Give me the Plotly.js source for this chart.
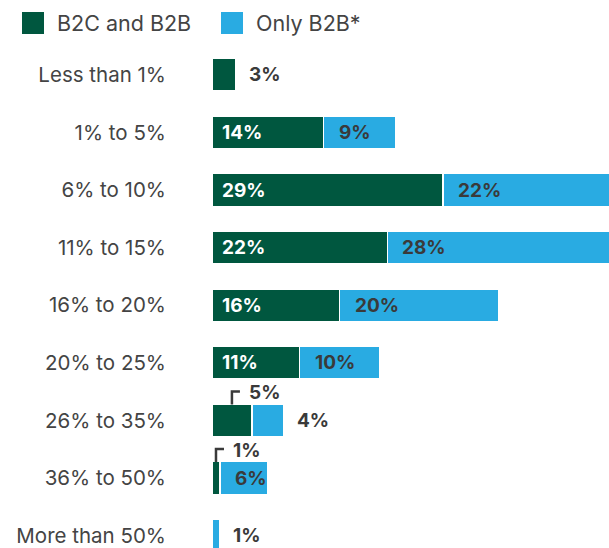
<!DOCTYPE html>
<html>
<head>
<meta charset="utf-8">
<script src="https://cdn.plot.ly/plotly-3.0.1.min.js"></script>
<style>html,body{margin:0;padding:0;background:#fff;}#chart{width:609px;height:548px;}</style>
</head>
<body>
<div id="chart"></div>
<script>
const categories = ['Less than 1%','1% to 5%','6% to 10%','11% to 15%','16% to 20%','20% to 25%','26% to 35%','36% to 50%','More than 50%'];
const b2cB2b = [3,14,29,22,16,11,5,1,0];
const onlyB2b = [0,9,22,28,20,10,4,6,1];
const seriesNames = ['B2C and B2B','Only B2B*'];

const GREEN = '#00573f';
const BLUE = '#29abe2';
const TXT = '#444444';
const DARK = '#3a3a3a';
const FAM = 'Inter, "Open Sans", sans-serif';

const traces = [
  {type:'bar', orientation:'h', name:seriesNames[0], y:categories, x:b2cB2b,
   marker:{color:GREEN, line:{color:'#ffffff', width:1.5}}, hoverinfo:'skip'},
  {type:'bar', orientation:'h', name:seriesNames[1], y:categories, x:onlyB2b,
   marker:{color:BLUE, line:{color:'#ffffff', width:1.5}}, hoverinfo:'skip'}
];

const labFont = (c)=>({family:FAM, size:19, color:c, weight:700});
const annotations = [];
const shapes = [];
categories.forEach((c,i)=>{
  const g = b2cB2b[i], b = onlyB2b[i];
  if (g > 0) {
    if (b === 0) {
      annotations.push({x:g, y:i, xref:'x', yref:'y', text:g+'%', showarrow:false, xanchor:'left', xshift:11, font:labFont(DARK)});
    } else if (g < 6) {
      annotations.push({x:g/2, y:i, xref:'x', yref:'y', text:g+'%', showarrow:false, xanchor:'left', xshift:15, yshift:28, font:labFont(DARK)});
      shapes.push({type:'path', xref:'x', yref:'y', xsizemode:'pixel', ysizemode:'pixel', xanchor:g/2, yanchor:i,
        path:'M0,16 V29 H8', line:{color:DARK, width:2.5}});
    } else {
      annotations.push({x:0, y:i, xref:'x', yref:'y', text:g+'%', showarrow:false, xanchor:'left', xshift:8, font:labFont('#ffffff')});
    }
  }
  if (b > 0) {
    if (b < 5) {
      annotations.push({x:g+b, y:i, xref:'x', yref:'y', text:b+'%', showarrow:false, xanchor:'left', xshift:11, font:labFont(DARK)});
    } else {
      annotations.push({x:g, y:i, xref:'x', yref:'y', text:b+'%', showarrow:false, xanchor:'left', xshift:13, font:labFont(DARK)});
    }
  }
});

// legend (drawn manually for large square swatches)
const L = 212, PW = 609 - L, PH = 502;
const px = v => (v - L) / PW;
const py = v => (548 - v) / PH;
const legendX = [22, 221];
[GREEN, BLUE].forEach((col,k)=>{
  shapes.push({type:'rect', xref:'paper', yref:'paper', x0:px(legendX[k]), x1:px(legendX[k]+22), y0:py(34), y1:py(12), fillcolor:col, line:{width:0}});
  annotations.push({xref:'paper', yref:'paper', x:px(legendX[k]+33), y:py(23), text:seriesNames[k], showarrow:false, xanchor:'left', yanchor:'middle', font:{family:FAM, size:21.5, color:TXT}});
});

const layout = {
  width:609, height:548,
  margin:{l:L, r:0, t:46, b:0, pad:0},
  paper_bgcolor:'#ffffff', plot_bgcolor:'#ffffff',
  barmode:'stack', bargap:0.43,
  showlegend:false,
  xaxis:{range:[0,49.8], showgrid:false, zeroline:false, showticklabels:false, ticks:'', fixedrange:true},
  yaxis:{type:'category', categoryarray:categories, categoryorder:'array', range:[8.215,-0.5],
         showgrid:false, zeroline:false, ticks:'', ticklabelstandoff:45,
         tickfont:{family:FAM, size:20.5, color:TXT}, fixedrange:true},
  annotations:annotations, shapes:shapes
};
Plotly.newPlot('chart', traces, layout, {displayModeBar:false, staticPlot:true});
</script>
</body>
</html>
